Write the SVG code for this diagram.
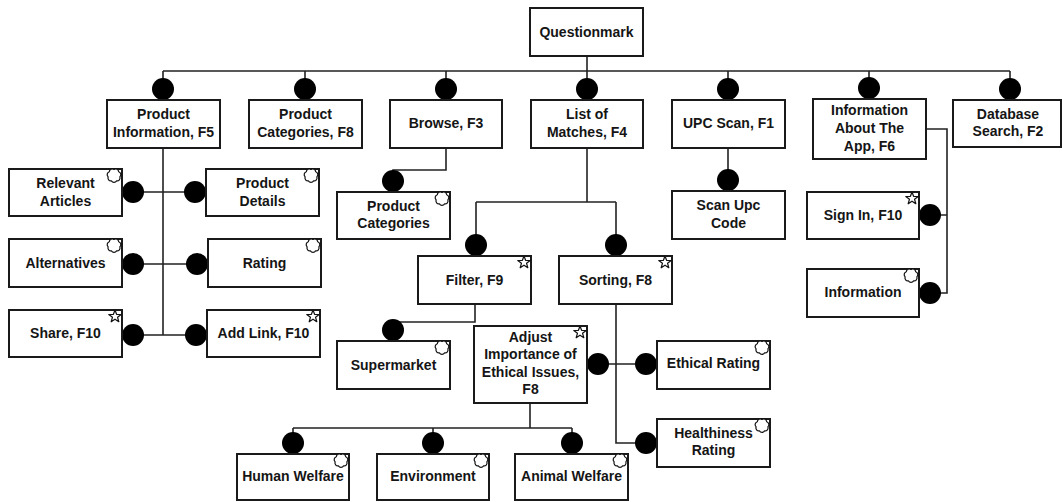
<svg xmlns="http://www.w3.org/2000/svg" xmlns:xlink="http://www.w3.org/1999/xlink" width="1062" height="502" viewBox="0 0 1062 502">
  <style>
    .box { fill: #ffffff; stroke: #1a1a1a; stroke-width: 2; }
    .lbl { font-family: "Liberation Sans", Arial, sans-serif; font-size: 14px; font-weight: bold; fill: #151515; text-anchor: middle; }
    .wire { fill: none; stroke: #222222; stroke-width: 1.6; }
    .dot { fill: #000000; }
    .icon { fill: #ffffff; stroke: #111111; stroke-width: 1.2; stroke-linejoin: round; }
  </style>
  <defs>
    <!-- small cloud badge: seven bumps round a circle -->
    <path id="cloud" class="icon" d="M0,-6 A3,3 0 0 1 4.69,-3.74 A3,3 0 0 1 5.85,1.34 A3,3 0 0 1 2.6,5.4 A3,3 0 0 1 -2.6,5.4 A3,3 0 0 1 -5.85,1.34 A3,3 0 0 1 -4.69,-3.74 A3,3 0 0 1 0,-6 Z"/>
    <!-- small star badge -->
    <polygon id="star" class="icon" points="0,-6.5 1.59,-2.18 6.18,-2.01 2.57,0.83 3.82,5.26 0,2.7 -3.82,5.26 -2.57,0.83 -6.18,-2.01 -1.59,-2.18"/>
  </defs>

  <!-- connectors -->
  <g id="connectors">
    <!-- root bus -->
    <path class="wire" d="M587,56 V71 M163,71 H1010 M163,71 V89 M305,71 V89 M446,71 V89 M587,71 V89 M728,71 V89 M869,71 V89 M1010,71 V89"/>
    <!-- product information branch -->
    <path class="wire" d="M163,148 V335 M133,192 H195 M133,264 H197 M133,335 H196"/>
    <!-- browse branch -->
    <path class="wire" d="M446,148 V170 H393 V181"/>
    <!-- list of matches branch -->
    <path class="wire" d="M587,148 V202 M476,202 H616 M476,202 V245 M616,202 V245"/>
    <!-- filter branch -->
    <path class="wire" d="M475,304 V322 H393 V330"/>
    <!-- sorting branch -->
    <path class="wire" d="M616,304 V443 H646 M598,364 H646"/>
    <!-- ethical issues branch -->
    <path class="wire" d="M530,403 V428 M293,428 H572 M293,428 V443 M433,428 V443 M572,428 V443"/>
    <!-- upc branch -->
    <path class="wire" d="M728,148 V180"/>
    <!-- app info branch -->
    <path class="wire" d="M926,129 H947 V293 H930 M930,215 H947"/>

    <g class="dots">
      <circle class="dot" cx="163" cy="89" r="11"/>
      <circle class="dot" cx="305" cy="89" r="11"/>
      <circle class="dot" cx="446" cy="89" r="11"/>
      <circle class="dot" cx="587" cy="89" r="11"/>
      <circle class="dot" cx="728" cy="89" r="11"/>
      <circle class="dot" cx="869" cy="88" r="11"/>
      <circle class="dot" cx="1010" cy="89" r="11"/>
      <circle class="dot" cx="133" cy="192" r="11"/>
      <circle class="dot" cx="195" cy="192" r="11"/>
      <circle class="dot" cx="133" cy="264" r="11"/>
      <circle class="dot" cx="197" cy="264" r="11"/>
      <circle class="dot" cx="133" cy="335" r="11"/>
      <circle class="dot" cx="196" cy="335" r="11"/>
      <circle class="dot" cx="393" cy="181" r="11"/>
      <circle class="dot" cx="476" cy="245" r="11"/>
      <circle class="dot" cx="616" cy="245" r="11"/>
      <circle class="dot" cx="393" cy="330" r="11"/>
      <circle class="dot" cx="598" cy="364" r="11"/>
      <circle class="dot" cx="646" cy="364" r="11"/>
      <circle class="dot" cx="646" cy="443" r="11"/>
      <circle class="dot" cx="293" cy="443" r="11"/>
      <circle class="dot" cx="433" cy="443" r="11"/>
      <circle class="dot" cx="572" cy="443" r="11"/>
      <circle class="dot" cx="728" cy="180" r="11"/>
      <circle class="dot" cx="930" cy="215" r="11"/>
      <circle class="dot" cx="930" cy="293" r="11"/>
    </g>
  </g>

  <!-- nodes -->
  <g id="questionmark">
    <rect class="box" x="530" y="8" width="113" height="48"/>
    <text class="lbl" x="586.5" y="36.5">Questionmark</text>
  </g>

  <g id="product-information">
    <rect class="box" x="107" y="100" width="113" height="48"/>
    <text class="lbl" x="163.5" y="119">Product</text>
    <text class="lbl" x="163.5" y="136.5">Information, F5</text>
  </g>
  <g id="product-categories-f8">
    <rect class="box" x="249" y="100" width="113" height="48"/>
    <text class="lbl" x="305.5" y="119">Product</text>
    <text class="lbl" x="305.5" y="136.5">Categories, F8</text>
  </g>
  <g id="browse">
    <rect class="box" x="390" y="100" width="112" height="48"/>
    <text class="lbl" x="446" y="128">Browse, F3</text>
  </g>
  <g id="list-of-matches">
    <rect class="box" x="531" y="100" width="112" height="48"/>
    <text class="lbl" x="587" y="119">List of</text>
    <text class="lbl" x="587" y="136.5">Matches, F4</text>
  </g>
  <g id="upc-scan">
    <rect class="box" x="672" y="100" width="113" height="48"/>
    <text class="lbl" x="728.5" y="128">UPC Scan, F1</text>
  </g>
  <g id="app-info">
    <rect class="box" x="813" y="99" width="113" height="60"/>
    <text class="lbl" x="869.5" y="115">Information</text>
    <text class="lbl" x="869.5" y="132.5">About The</text>
    <text class="lbl" x="869.5" y="150.5">App, F6</text>
  </g>
  <g id="database-search">
    <rect class="box" x="953" y="100" width="108" height="47"/>
    <text class="lbl" x="1008" y="118.5">Database</text>
    <text class="lbl" x="1008" y="136">Search, F2</text>
  </g>

  <g id="relevant-articles">
    <rect class="box" x="9" y="169" width="113" height="47"/>
    <text class="lbl" x="65.5" y="188">Relevant</text>
    <text class="lbl" x="65.5" y="205.5">Articles</text>
    <use xlink:href="#cloud" x="114" y="175.5"/>
  </g>
  <g id="product-details">
    <rect class="box" x="206" y="169" width="113" height="47"/>
    <text class="lbl" x="262.5" y="188">Product</text>
    <text class="lbl" x="262.5" y="205.5">Details</text>
    <use xlink:href="#cloud" x="311" y="175.5"/>
  </g>
  <g id="alternatives">
    <rect class="box" x="9" y="239" width="113" height="48"/>
    <text class="lbl" x="65.5" y="267.5">Alternatives</text>
    <use xlink:href="#cloud" x="114" y="245.5"/>
  </g>
  <g id="rating">
    <rect class="box" x="208" y="239" width="113" height="48"/>
    <text class="lbl" x="264.5" y="267.5">Rating</text>
    <use xlink:href="#cloud" x="313" y="245.5"/>
  </g>
  <g id="share">
    <rect class="box" x="9" y="310" width="113" height="47"/>
    <text class="lbl" x="65.5" y="338">Share, F10</text>
    <use xlink:href="#star" x="115" y="316.5"/>
  </g>
  <g id="add-link">
    <rect class="box" x="207" y="310" width="113" height="47"/>
    <text class="lbl" x="263.5" y="338">Add Link, F10</text>
    <use xlink:href="#star" x="313" y="316.5"/>
  </g>

  <g id="product-categories">
    <rect class="box" x="337" y="192" width="113" height="47"/>
    <text class="lbl" x="393.5" y="210.5">Product</text>
    <text class="lbl" x="393.5" y="228">Categories</text>
    <use xlink:href="#cloud" x="442" y="198.5"/>
  </g>

  <g id="filter">
    <rect class="box" x="418" y="256" width="113" height="48"/>
    <text class="lbl" x="474.5" y="284.5">Filter, F9</text>
    <use xlink:href="#star" x="524" y="262.5"/>
  </g>
  <g id="sorting">
    <rect class="box" x="559" y="256" width="113" height="48"/>
    <text class="lbl" x="615.5" y="284.5">Sorting, F8</text>
    <use xlink:href="#star" x="665" y="262.5"/>
  </g>
  <g id="supermarket">
    <rect class="box" x="337" y="341" width="113" height="48"/>
    <text class="lbl" x="393.5" y="369.5">Supermarket</text>
    <use xlink:href="#cloud" x="442" y="347.5"/>
  </g>
  <g id="adjust-importance">
    <rect class="box" x="474" y="326" width="113" height="77"/>
    <text class="lbl" x="530.5" y="341.5">Adjust</text>
    <text class="lbl" x="530.5" y="359">Importance of</text>
    <text class="lbl" x="530.5" y="376.5">Ethical Issues,</text>
    <text class="lbl" x="530.5" y="394">F8</text>
    <use xlink:href="#star" x="580" y="332.5"/>
  </g>
  <g id="ethical-rating">
    <rect class="box" x="657" y="341" width="113" height="48"/>
    <text class="lbl" x="713.5" y="368">Ethical Rating</text>
    <use xlink:href="#cloud" x="762" y="347.5"/>
  </g>
  <g id="healthiness-rating">
    <rect class="box" x="657" y="419" width="113" height="48"/>
    <text class="lbl" x="713.5" y="437.5">Healthiness</text>
    <text class="lbl" x="713.5" y="455">Rating</text>
    <use xlink:href="#cloud" x="762" y="425.5"/>
  </g>

  <g id="human-welfare">
    <rect class="box" x="237" y="454" width="112" height="46"/>
    <text class="lbl" x="293" y="481">Human Welfare</text>
    <use xlink:href="#cloud" x="341" y="460.5"/>
  </g>
  <g id="environment">
    <rect class="box" x="377" y="454" width="112" height="46"/>
    <text class="lbl" x="433" y="481">Environment</text>
    <use xlink:href="#cloud" x="481" y="460.5"/>
  </g>
  <g id="animal-welfare">
    <rect class="box" x="515" y="454" width="113" height="46"/>
    <text class="lbl" x="571.5" y="481">Animal Welfare</text>
    <use xlink:href="#cloud" x="620" y="460.5"/>
  </g>

  <g id="scan-upc-code">
    <rect class="box" x="672" y="191" width="113" height="48"/>
    <text class="lbl" x="728.5" y="210">Scan Upc</text>
    <text class="lbl" x="728.5" y="227.5">Code</text>
  </g>
  <g id="sign-in">
    <rect class="box" x="807" y="192" width="112" height="47"/>
    <text class="lbl" x="863" y="219.5">Sign In, F10</text>
    <use xlink:href="#star" x="912" y="198.5"/>
  </g>
  <g id="information">
    <rect class="box" x="807" y="269" width="112" height="48"/>
    <text class="lbl" x="863" y="297">Information</text>
    <use xlink:href="#cloud" x="911" y="275.5"/>
  </g>
</svg>
